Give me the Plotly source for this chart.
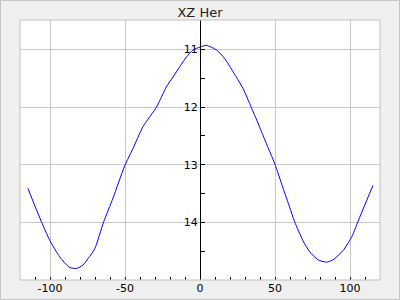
import plotly.graph_objects as go

phase = [-114.7, -110.0, -105.7, -100.2, -93.5, -87.0, -82.4, -78.0, -74.7, -70.2, -64.2, -58.0,
         -50.2, -44.7, -38.0, -29.0, -22.4, -18.0, -13.5, -9.0, -4.7, 0.0, 4.3, 11.0, 16.5, 24.2,
         28.7, 34.3, 39.8, 45.3, 49.8, 55.3, 59.8, 63.1, 68.7, 73.1, 78.7, 84.3, 88.7, 95.3,
         101.0, 106.5, 115.3]
mag = [13.41, 13.72, 13.99, 14.31, 14.60, 14.78, 14.80, 14.74, 14.63, 14.46, 13.99, 13.58,
       13.02, 12.72, 12.34, 12.00, 11.65, 11.48, 11.30, 11.13, 11.01, 10.96, 10.93, 11.01, 11.16, 11.48,
       11.68, 12.01, 12.35, 12.70, 12.98, 13.40, 13.74, 13.99, 14.32, 14.51, 14.65, 14.69, 14.65, 14.49,
       14.26, 13.91, 13.36]

x_ticks = [-100, -50, 0, 50, 100]
y_ticks = [11, 12, 13, 14]
title_text = "XZ Her"

fig = go.Figure()
fig.add_trace(go.Scatter(x=phase, y=mag, mode="lines", line=dict(color="#0000ff", width=1, shape="spline", smoothing=0.6),
                         showlegend=False, hoverinfo="skip"))

grid = "#c8c8c8"
fig.update_layout(
    width=400, height=300,
    margin=dict(l=20, r=20, t=20, b=20, autoexpand=False),
    paper_bgcolor="#efefef", plot_bgcolor="#ffffff",
    font=dict(family="DejaVu Sans", size=11, color="#000000"),
    title=dict(text=title_text, x=0.5, xanchor="center", y=1 - 12 / 300, yanchor="middle",
               font=dict(family="DejaVu Sans", size=13, color="#222222"), automargin=False),
    xaxis=dict(range=[-120, 120], tickvals=x_ticks, ticktext=[str(v) for v in x_ticks],
               automargin=False,
               showgrid=True, gridcolor=grid, gridwidth=1, zeroline=False,
               ticks="inside", ticklen=3, tickcolor="#000000", tickwidth=1,
               minor=dict(dtick=10, ticks="inside", ticklen=3, tickcolor="#000000", showgrid=False),
               showline=False, tickfont=dict(size=11)),
    yaxis=dict(range=[15.0, 10.49], tickvals=y_ticks, ticktext=[str(v) for v in y_ticks],
               anchor="free", position=0.5, side="left", automargin=False,
               showgrid=True, gridcolor=grid, gridwidth=1, zeroline=False,
               showline=True, linecolor="#000000", linewidth=1,
               ticks="inside", ticklen=4, tickcolor="#000000", tickwidth=1,
               minor=dict(dtick=0.5, tick0=10.5, ticks="inside", ticklen=4, tickcolor="#000000", showgrid=False),
               tickfont=dict(size=11)),
    shapes=[
        dict(type="rect", xref="paper", yref="paper", x0=0, x1=1, y0=0, y1=1,
             line=dict(color="#c0c0c0", width=1), layer="above"),
        dict(type="rect", xref="paper", yref="paper", x0=-20 / 360 + 0.5 / 360, x1=1 + 20 / 360 - 0.5 / 360,
             y0=-20 / 260 + 0.5 / 260, y1=1 + 20 / 260 - 0.5 / 260,
             line=dict(color="#c4c4c4", width=1), layer="below"),
    ],
)

fig.write_html("out.html")
